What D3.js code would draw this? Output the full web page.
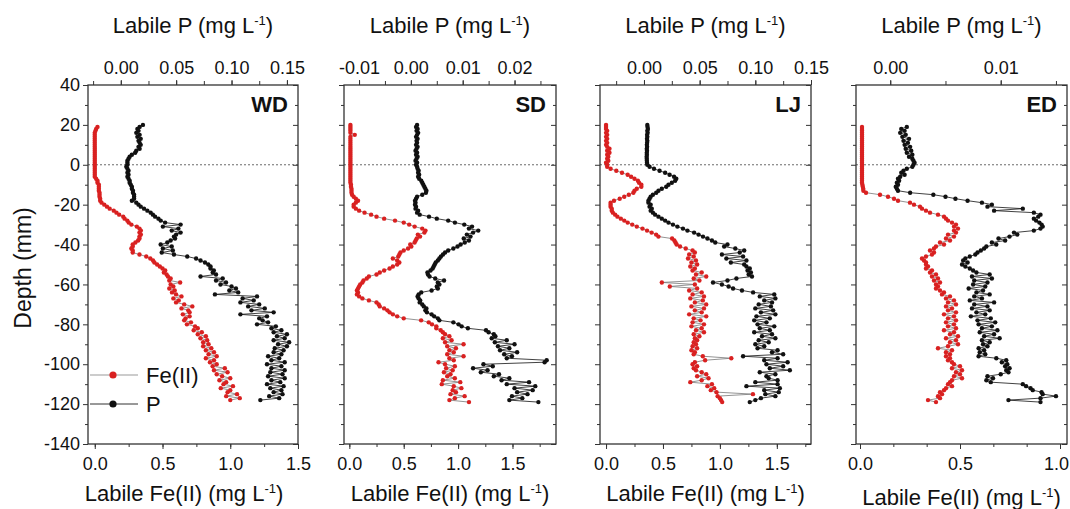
<!DOCTYPE html>
<html>
<head>
<meta charset="utf-8">
<script src="https://d3js.org/d3.v7.min.js"></script>
<title>Labile Fe(II) and P profiles</title>
<style>
  body { margin: 0; background: #fff; }
  svg text { font-family: "Liberation Sans", Arial, sans-serif; fill: #111; }
</style>
</head>
<body>
<svg id="chart" width="1070" height="509"></svg>
<script>
// depth of each DGT slice (mm), 20 down to -119
const depth = [
  20,19,18,17,16,15,14,13,12,11, 10,9,8,7,6,5,4,3,2,1,
  0,-1,-2,-3,-4,-5,-6,-7,-8,-9, -10,-11,-12,-13,-14,-15,-16,-17,-18,-19,
  -20,-21,-22,-23,-24,-25,-26,-27,-28,-29, -30,-31,-32,-33,-34,-35,-36,-37,-38,-39,
  -40,-41,-42,-43,-44,-45,-46,-47,-48,-49, -50,-51,-52,-53,-54,-55,-56,-57,-58,-59,
  -60,-61,-62,-63,-64,-65,-66,-67,-68,-69, -70,-71,-72,-73,-74,-75,-76,-77,-78,-79,
  -80,-81,-82,-83,-84,-85,-86,-87,-88,-89, -90,-91,-92,-93,-94,-95,-96,-97,-98,-99,
  -100,-101,-102,-103,-104,-105,-106,-107,-108,-109, -110,-111,-112,-113,-114,-115,-116,-117,-118,-119
];

// WD
const wdFe = [
  null,0.02,0.01,0.005,0,0,0,0,0,0,  0,0,0,0,0,0,0,0,0,0,
  0,0,0,0,0,0,0,0.01,0.02,0.02,  0.03,0.03,0.03,0.03,0.035,0.035,0.035,0.04,0.04,0.05,
  0.07,0.09,0.11,0.14,0.16,0.18,0.21,0.22,0.24,0.25,  0.27,0.31,0.33,0.34,0.33,0.34,0.33,0.33,0.32,0.30,
  0.28,0.28,0.27,0.28,0.28,0.33,0.38,0.41,0.43,0.44,  0.46,0.48,0.50,0.52,0.51,0.53,0.54,0.56,0.55,0.63,
  0.56,0.58,0.55,0.59,0.57,0.60,0.64,0.58,0.62,0.60,  0.66,0.72,0.64,0.69,0.70,0.65,0.70,0.67,0.66,0.71,
  0.68,0.74,0.76,0.73,0.79,0.76,0.82,0.78,0.83,0.80,  0.84,0.80,0.86,0.82,0.88,0.84,0.90,0.82,0.88,0.85,
  0.90,0.87,0.96,0.88,0.98,0.90,0.94,1.00,0.92,0.97,  0.95,1.02,0.93,1.00,0.98,1.05,0.97,1.07,1.00,null
];
const wdP = [
  0.020,0.017,0.015,0.016,0.014,0.017,0.015,0.018,0.016,0.017,  0.018,0.016,0.017,0.014,0.013,0.010,0.008,0.007,0.006,0.006,
  0.006,0.005,0.006,0.007,0.006,0.007,0.006,0.007,0.008,0.008,  0.009,0.010,0.010,0.011,0.011,0.012,0.012,0.012,0.010,0.014,
  0.016,0.018,0.021,0.024,0.027,0.029,0.031,0.034,0.036,0.040,  0.054,0.038,0.052,0.046,0.054,0.050,0.048,0.049,0.045,0.042,
  0.036,0.046,0.038,0.047,0.037,0.048,0.060,0.068,0.072,0.076,  0.079,0.081,0.081,0.084,0.083,0.086,0.072,0.092,0.086,0.095,
  0.090,0.100,0.104,0.098,0.106,0.085,0.123,0.110,0.120,0.108,  0.125,0.115,0.130,0.118,0.138,0.108,0.132,0.125,0.128,0.133,
  0.123,0.140,0.136,0.145,0.138,0.150,0.141,0.148,0.138,0.152,  0.142,0.150,0.139,0.147,0.138,0.145,0.133,0.143,0.136,0.148,
  0.132,0.145,0.136,0.148,0.135,0.146,0.133,0.148,0.136,0.144,  0.132,0.147,0.135,0.145,0.138,0.146,0.134,0.143,0.126,null
];

// SD
const sdFe = [
  0.01,0.01,0.01,0.01,0.01,0.05,0.01,0.01,0.01,0.01,  0.01,0.01,0.01,0.01,0.01,0.01,0.01,0.01,0.01,0.01,
  0.01,0.01,0.01,0.01,0.01,0.01,0.01,0.01,0.01,0.01,  0.015,0.015,0.02,0.02,0.02,0.025,0.04,0.06,0.08,0.06,
  0.04,0.04,0.06,0.09,0.14,0.20,0.25,0.32,0.42,0.50,  0.55,0.60,0.67,0.70,0.69,0.63,0.65,0.62,0.61,0.60,
  0.56,0.57,0.54,0.50,0.47,0.46,0.45,0.40,0.44,0.46,  0.44,0.40,0.37,0.32,0.28,0.25,0.18,0.16,0.13,0.12,
  0.10,0.09,0.08,0.07,0.08,0.07,0.09,0.12,0.18,0.25,  0.27,0.28,0.32,0.35,0.37,0.40,0.44,0.50,0.66,0.73,
  0.76,0.80,0.80,0.84,0.86,0.88,0.92,0.86,0.94,0.88,  1.05,0.90,0.98,0.92,0.96,0.90,1.05,0.92,0.96,0.82,
  0.88,0.97,0.89,0.95,0.87,0.93,0.90,0.97,0.86,1.02,  0.85,0.96,1.03,0.95,0.98,0.93,1.06,0.97,0.92,1.10
];
const sdP = [
  0.0012,0.0010,0.0013,0.0011,0.0014,0.0012,0.0010,0.0013,0.0011,0.0012,  0.0010,0.0013,0.0011,0.0009,0.0012,0.0010,0.0013,0.0011,0.0009,0.0012,
  0.0010,0.0012,0.0013,0.0015,0.0014,0.0016,0.0014,0.0016,0.0020,0.0022,  0.0024,0.0026,0.0028,0.0030,0.0029,0.0022,0.0012,0.0010,0.0008,0.0009,
  0.0008,0.0010,0.0009,0.0014,0.0012,0.0017,0.0035,0.0050,0.0072,0.0085,  0.0103,0.0118,0.0112,0.0130,0.0120,0.0108,0.0115,0.0102,0.0112,0.0104,
  0.0096,0.0090,0.0082,0.0072,0.0066,0.0062,0.0058,0.0055,0.0052,0.0048,  0.0046,0.0044,0.0042,0.0038,0.0032,0.0033,0.0036,0.0047,0.0064,0.0052,
  0.0055,0.0050,0.0052,0.0040,0.0020,0.0015,0.0013,0.0015,0.0018,0.0017,  0.0022,0.0025,0.0030,0.0028,0.0031,0.0040,0.0045,0.0052,0.0055,0.0082,
  0.0092,0.0098,0.0110,0.0145,0.0150,0.0160,0.0163,0.0156,0.0185,0.0162,  0.0200,0.0168,0.0190,0.0172,0.0205,0.0180,0.0195,0.0185,0.0262,0.0258,
  0.0140,0.0158,0.0120,0.0148,0.0135,0.0170,0.0160,0.0190,0.0175,0.0228,  0.0185,0.0240,0.0200,0.0235,0.0205,0.0225,0.0195,0.0215,0.0190,0.0246
];

// LJ
const ljFe = [
  0.00,0.00,0.00,0.01,0.00,0.01,0.00,0.01,0.00,0.01,  0.00,0.01,0.03,0.01,0.03,0.01,0.02,0.01,0.02,0.00,
  0.01,0.01,0.04,0.09,0.14,0.19,0.22,0.25,0.28,0.29,  0.31,0.31,0.27,0.25,0.24,0.20,0.16,0.12,0.07,0.04,
  0.04,0.04,0.05,0.05,0.06,0.08,0.10,0.13,0.16,0.19,  0.23,0.27,0.32,0.36,0.40,0.44,0.46,0.58,0.60,0.61,
  0.62,0.65,0.70,0.76,0.78,0.73,0.77,0.72,0.79,0.75,  0.80,0.74,0.78,0.76,0.84,0.79,0.88,0.77,0.82,0.49,
  0.78,0.56,0.80,0.73,0.84,0.76,0.86,0.74,0.85,0.78,  0.88,0.75,0.86,0.78,0.84,0.73,0.88,0.77,0.83,0.76,
  0.86,0.75,0.84,0.79,0.86,0.77,0.82,0.78,0.80,0.77,  0.79,0.76,0.80,0.75,0.78,0.77,0.85,1.10,0.87,0.78,
  0.76,0.80,0.77,0.79,0.84,0.88,0.80,0.90,0.84,0.74,  0.93,0.89,0.95,0.92,0.97,1.29,0.98,1.00,1.01,1.02
];
const ljP = [
  0.0030,0.0032,0.0035,0.0030,0.0033,0.0028,0.0030,0.0027,0.0030,0.0028,  0.0026,0.0028,0.0025,0.0027,0.0025,0.0026,0.0024,0.0025,0.0026,0.0027,
  0.003,0.005,0.009,0.014,0.019,0.023,0.027,0.029,0.028,0.025,  0.022,0.020,0.016,0.013,0.011,0.008,0.006,0.005,0.004,0.004,
  0.006,0.005,0.007,0.006,0.008,0.010,0.013,0.016,0.019,0.022,  0.026,0.030,0.035,0.039,0.045,0.049,0.053,0.057,0.061,0.064,
  0.075,0.072,0.082,0.090,0.086,0.070,0.089,0.074,0.092,0.078,  0.090,0.092,0.095,0.093,0.096,0.094,0.097,0.083,0.075,0.062,
  0.070,0.076,0.080,0.088,0.098,0.117,0.104,0.118,0.108,0.115,  0.103,0.114,0.100,0.116,0.105,0.118,0.101,0.113,0.099,0.110,
  0.102,0.117,0.104,0.113,0.099,0.115,0.106,0.118,0.103,0.112,  0.100,0.108,0.102,0.120,0.115,0.125,0.089,0.120,0.108,0.129,
  0.110,0.125,0.113,0.131,0.104,0.118,0.110,0.112,0.120,0.100,  0.120,0.092,0.122,0.108,0.121,0.109,0.118,0.105,0.100,0.095
];

// ED
const edFe = [
  null,0.01,0.01,0.01,0.01,0.01,0.01,0.01,0.01,0.01,  0.01,0.01,0.01,0.01,0.01,0.01,0.01,0.01,0.01,0.01,
  0.01,0.01,0.01,0.01,0.01,0.01,0.01,0.01,0.01,0.01,  0.012,0.014,0.016,0.017,0.03,0.10,0.14,0.17,0.19,0.25,
  0.27,0.30,0.31,0.33,0.35,0.39,0.42,0.43,0.44,0.46,  0.48,0.47,0.49,0.47,0.48,0.44,0.47,0.43,0.45,0.40,
  0.42,0.38,0.37,0.35,0.37,0.36,0.33,0.31,0.32,0.33,  0.33,0.34,0.33,0.36,0.35,0.38,0.36,0.39,0.37,0.40,
  0.38,0.39,0.38,0.40,0.42,0.41,0.45,0.43,0.47,0.44,  0.48,0.43,0.46,0.44,0.48,0.42,0.47,0.44,0.48,0.43,
  0.47,0.44,0.48,0.42,0.47,0.45,0.49,0.43,0.48,0.45,  0.49,0.44,0.39,0.46,0.43,0.45,0.43,0.45,0.44,0.46,
  0.47,0.50,0.46,0.51,0.48,0.50,0.47,0.51,0.46,0.45,  0.44,0.46,0.43,0.42,0.40,0.41,0.39,0.40,0.34,0.38
];
const edP = [
  null,0.0015,0.0010,0.0013,0.0009,0.0014,0.0011,0.0017,0.0012,0.0016,  0.0013,0.0018,0.0014,0.0019,0.0015,0.0020,0.0017,0.0020,0.0021,0.0022,
  0.0021,0.0020,0.0015,0.0012,0.0010,0.0013,0.0009,0.0007,0.0008,0.0006,  0.0007,0.0005,0.0006,0.0007,0.0018,0.0039,0.0050,0.0059,0.0070,0.0083,
  0.0092,0.0088,0.0120,0.0094,0.0130,0.0136,0.0134,0.0130,0.0132,0.0135,  0.0137,0.0138,0.0136,0.0130,0.0112,0.0115,0.0108,0.0098,0.0104,0.0092,
  0.0096,0.0087,0.0085,0.0082,0.0079,0.0077,0.0072,0.0068,0.0066,0.0070,  0.0065,0.0068,0.0072,0.0075,0.0078,0.0090,0.0074,0.0092,0.0076,0.0088,
  0.0075,0.0086,0.0071,0.0084,0.0078,0.0090,0.0076,0.0083,0.0072,0.0094,  0.0076,0.0088,0.0074,0.0090,0.0078,0.0086,0.0073,0.0091,0.0079,0.0095,
  0.0080,0.0092,0.0083,0.0097,0.0081,0.0094,0.0085,0.0099,0.0083,0.0090,  0.0084,0.0088,0.0080,0.0085,0.0081,0.0086,0.0080,0.0096,0.0105,0.0101,
  0.0106,0.0104,0.0108,0.0105,0.0107,0.0100,0.0088,0.0093,0.0087,0.0091,  0.0120,0.0123,0.0127,0.0129,0.0137,0.0138,0.0150,0.0136,0.0107,0.0136
];

// axis tick labels
const yTicks = [40, 20, 0, -20, -40, -60, -80, -100, -120, -140];
const yTickLabels = ["40", "20", "0", "-20", "-40", "-60", "-80", "-100", "-120", "-140"];
const feTickLabels = ["0.0", "0.5", "1.0", "1.5"];
const pTickLabelsA = ["0.00", "0.05", "0.10", "0.15"];
const pTickLabelsB = ["-0.01", "0.00", "0.01", "0.02"];
const pTickLabelsC = ["0.00", "0.01"];

const svg = d3.select("svg#chart");
const plotTop = 85, plotBottom = 444;
const red = "#d92121";

const y = d3.scaleLinear().domain([-140, 40]).range([plotBottom, plotTop]);

const panels = [
  {name: "WD", fe: wdFe, p: wdP, left: 88, right: 298,
   feDomain: [-0.05, 1.5], feTicks: [0, 0.5, 1.0, 1.5], feMinor: 0.25,
   pDomain: [-0.0296, 0.160], pTicks: [0, 0.05, 0.10, 0.15], pLabels: pTickLabelsA, pMinor: 0.025,
   titleY: 501, titleDx: -9},
  {name: "SD", fe: sdFe, p: sdP, left: 344, right: 556,
   feDomain: [-0.049, 1.9], feTicks: [0, 0.5, 1.0, 1.5], feMinor: 0.25,
   pDomain: [-0.0129, 0.028], pTicks: [-0.01, 0, 0.01, 0.02], pLabels: pTickLabelsB, pMinor: 0.005,
   titleY: 501, titleDx: 0},
  {name: "LJ", fe: ljFe, p: ljP, left: 600, right: 811,
   feDomain: [-0.053, 1.8], feTicks: [0, 0.5, 1.0, 1.5], feMinor: 0.25,
   pDomain: [-0.0395, 0.15], pTicks: [0, 0.05, 0.10, 0.15], pLabels: pTickLabelsA, pMinor: 0.025,
   titleY: 501, titleDx: 0},
  {name: "ED", fe: edFe, p: edP, left: 856, right: 1067,
   feDomain: [-0.02, 1.035], feTicks: [0, 0.5, 1.0], feMinor: 0.5 / 3,
   pDomain: [-0.0031, 0.016], pTicks: [0, 0.01], pLabels: pTickLabelsC, pMinor: 0.005,
   titleY: 505, titleDx: 0}
];

// minor ticks inside a domain
function minorTicks(domain, step) {
  const out = [];
  const start = Math.ceil(domain[0] / step - 1e-9);
  for (let k = start; k * step <= domain[1] + 1e-9; k++) out.push(+(k * step).toFixed(6));
  return out;
}

function title(g, x, yPos, prefix) {
  const t = g.append("text")
    .attr("x", x).attr("y", yPos)
    .attr("text-anchor", "middle")
    .attr("font-size", 22);
  t.append("tspan").text(prefix + " (mg L");
  t.append("tspan").attr("dy", -8).attr("font-size", 13).text("-1");
  t.append("tspan").attr("dy", 8).text(")");
}

panels.forEach((pn, i) => {
  const g = svg.append("g").attr("id", "panel" + pn.name);
  const xFe = d3.scaleLinear().domain(pn.feDomain).range([pn.left, pn.right]);
  const xP = d3.scaleLinear().domain(pn.pDomain).range([pn.left, pn.right]);

  // zero line
  g.append("line")
    .attr("x1", pn.left).attr("x2", pn.right)
    .attr("y1", y(0)).attr("y2", y(0))
    .attr("stroke", "#444").attr("stroke-width", 0.8)
    .attr("stroke-dasharray", "2,2");

  // bottom axis (Fe)
  const bAxis = g.append("g").attr("transform", `translate(0,${plotBottom})`);
  bAxis.call(d3.axisBottom(xFe).tickValues(minorTicks(pn.feDomain, pn.feMinor)).tickSize(3).tickFormat(""));
  bAxis.append("g").call(d3.axisBottom(xFe).tickValues(pn.feTicks).tickSize(5).tickPadding(8)
    .tickFormat((d, k) => feTickLabels[k]));

  // top axis (P)
  const tAxis = g.append("g").attr("transform", `translate(0,${plotTop})`);
  tAxis.call(d3.axisTop(xP).tickValues(minorTicks(pn.pDomain, pn.pMinor)).tickSize(4).tickFormat(""));
  tAxis.append("g").call(d3.axisTop(xP).tickValues(pn.pTicks).tickSize(5).tickPadding(6)
    .tickFormat((d, k) => pn.pLabels[k]));

  // left and right depth axes
  const lAxis = g.append("g").attr("transform", `translate(${pn.left},0)`);
  lAxis.call(d3.axisLeft(y).tickValues(d3.range(-130, 40, 20)).tickSize(3).tickFormat(""));
  lAxis.append("g").call(d3.axisLeft(y).tickValues(yTicks).tickSize(5).tickPadding(3)
    .tickFormat((d, k) => i === 0 ? yTickLabels[k] : ""));
  const rAxis = g.append("g").attr("transform", `translate(${pn.right},0)`);
  rAxis.call(d3.axisRight(y).tickValues(d3.range(-130, 40, 20)).tickSize(-3).tickFormat(""));
  rAxis.append("g").call(d3.axisRight(y).tickValues(yTicks).tickSize(-5).tickFormat(""));

  g.selectAll(".domain").remove();
  g.selectAll(".tick line").attr("stroke", "#333").attr("stroke-width", 1);
  g.selectAll(".tick text").attr("font-size", 18).attr("fill", "#111")
    .attr("font-family", "Liberation Sans, Arial, sans-serif");

  // keep a label at the page edge inside the window
  bAxis.selectAll(".tick text").each(function() {
    const b = this.getBBox();
    const tx = +this.parentNode.getAttribute("transform").match(/translate\(([-\d.]+)/)[1];
    if (tx + b.x + b.width > 1069) d3.select(this).attr("text-anchor", "end").attr("x", 1069 - tx);
  });

  // frame
  g.append("rect")
    .attr("x", pn.left).attr("y", plotTop)
    .attr("width", pn.right - pn.left).attr("height", plotBottom - plotTop)
    .attr("fill", "none").attr("stroke", "#333").attr("stroke-width", 1.3);

  // profiles
  const feData = depth.map((d, k) => ({d: d, v: pn.fe[k]})).filter(o => o.v != null);
  const pData = depth.map((d, k) => ({d: d, v: pn.p[k]})).filter(o => o.v != null);

  g.append("path").datum(feData)
    .attr("fill", "none").attr("stroke", "#777").attr("stroke-width", 0.8)
    .attr("d", d3.line().x(o => xFe(o.v)).y(o => y(o.d)));
  g.append("path").datum(pData)
    .attr("fill", "none").attr("stroke", "#111").attr("stroke-width", 0.8)
    .attr("d", d3.line().x(o => xP(o.v)).y(o => y(o.d)));

  g.selectAll("circle.fe").data(feData).join("circle")
    .attr("class", "fe")
    .attr("cx", o => xFe(o.v)).attr("cy", o => y(o.d))
    .attr("r", 2.2).attr("fill", red);
  g.selectAll("circle.p").data(pData).join("circle")
    .attr("class", "p")
    .attr("cx", o => xP(o.v)).attr("cy", o => y(o.d))
    .attr("r", 2.2).attr("fill", "#111");

  // panel label
  g.append("text")
    .attr("x", pn.right - 10).attr("y", 112)
    .attr("text-anchor", "end")
    .attr("font-size", 22).attr("font-weight", "bold")
    .text(pn.name);

  // axis titles
  title(g, (pn.left + pn.right) / 2, 33, "Labile P");
  title(g, (pn.left + pn.right) / 2 + pn.titleDx, pn.titleY, "Labile Fe(II)");
});

// depth title
svg.append("text")
  .attr("transform", "translate(31,268) rotate(-90)")
  .attr("text-anchor", "middle")
  .attr("font-size", 23)
  .text("Depth (mm)");

// legend
const legend = svg.append("g").attr("id", "legend");
const legendItems = [
  {label: "Fe(II)", color: red, line: "#999", ly: 375},
  {label: "P", color: "#111", line: "#333", ly: 404}
];
legendItems.forEach(it => {
  legend.append("line")
    .attr("x1", 90).attr("x2", 138)
    .attr("y1", it.ly).attr("y2", it.ly)
    .attr("stroke", it.line).attr("stroke-width", 1);
  legend.append("circle")
    .attr("cx", 113).attr("cy", it.ly).attr("r", 3.6)
    .attr("fill", it.color);
  legend.append("text")
    .attr("x", 146).attr("y", it.ly + 8)
    .attr("font-size", 22)
    .text(it.label);
});
</script>
</body>
</html>
